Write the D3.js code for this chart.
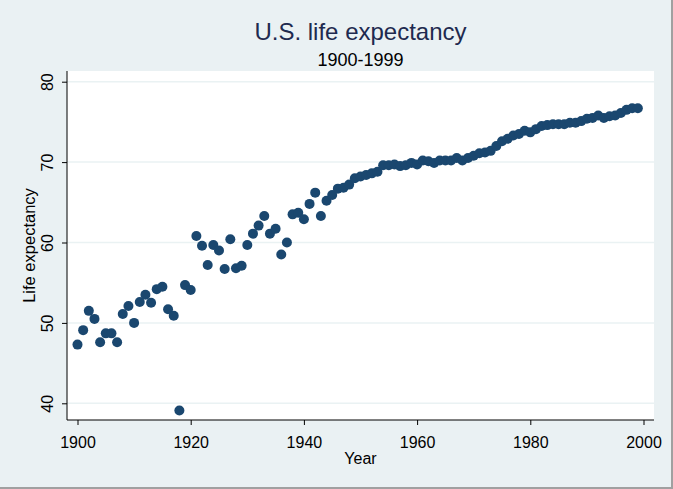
<!DOCTYPE html>
<html><head><meta charset="utf-8">
<script src="https://cdn.jsdelivr.net/npm/d3@7"></script>
<style>body{margin:0;background:#eaf1f3;} svg{display:block;}</style>
</head><body>
<svg id="c" width="673" height="489"></svg>
<script>
const years = d3.range(1900, 2000);
const lifeExp = [47.3,49.1,51.5,50.5,47.6,48.7,48.7,47.6,51.1,52.1,
50.0,52.6,53.5,52.5,54.2,54.5,51.7,50.9,39.1,54.7,
54.1,60.8,59.6,57.2,59.7,59.0,56.7,60.4,56.8,57.1,
59.7,61.1,62.1,63.3,61.1,61.7,58.5,60.0,63.5,63.7,
62.9,64.8,66.2,63.3,65.2,65.9,66.7,66.8,67.2,68.0,
68.2,68.4,68.6,68.8,69.6,69.6,69.7,69.5,69.6,69.9,
69.7,70.2,70.1,69.9,70.2,70.2,70.2,70.5,70.2,70.5,
70.8,71.1,71.2,71.4,72.0,72.6,72.9,73.3,73.5,73.9,
73.7,74.1,74.5,74.6,74.7,74.7,74.7,74.9,74.9,75.1,
75.4,75.5,75.8,75.5,75.7,75.8,76.1,76.5,76.7,76.7];
const xTicks = [1900,1920,1940,1960,1980,2000];
const yTicks = [40,50,60,70,80];

const svg = d3.select("#c");
const W = 673, H = 489;
const L = 67, R = 654, T = 71, B = 420;
const font = "Arial, 'Liberation Sans', sans-serif";

svg.append("rect").attr("width", W).attr("height", H).attr("fill", "#eaf1f3");
svg.append("line").attr("x1", W-1).attr("x2", W-1).attr("y1", 0).attr("y2", H).attr("stroke", "#a0a0a0").attr("stroke-width", 2);
svg.append("line").attr("x1", 0).attr("x2", W).attr("y1", H-1).attr("y2", H-1).attr("stroke", "#a0a0a0").attr("stroke-width", 2);

svg.append("rect").attr("x", L).attr("y", T).attr("width", R-L).attr("height", B-T).attr("fill", "#ffffff");

const x = d3.scaleLinear().domain([1900, 2000]).range([77.5, 643.5]);
const y = d3.scaleLinear().domain([40, 80]).range([403.3, 81.7]);

// gridlines
svg.append("g").selectAll("line").data(yTicks).join("line")
  .attr("x1", L).attr("x2", R).attr("y1", d => y(d)).attr("y2", d => y(d))
  .attr("stroke", "#eaf2f3").attr("stroke-width", 1.5);

// y axis
const yAxis = d3.axisLeft(y).tickValues(yTicks).tickSize(5);
const gy = svg.append("g").attr("transform", `translate(${L},0)`).call(yAxis);
gy.select(".domain").attr("d", `M0,${T}V${B}`).attr("stroke", "#000");
gy.selectAll(".tick line").attr("stroke", "#000");
gy.selectAll(".tick text").remove();
gy.selectAll(".tick").append("text")
  .attr("transform", "translate(-14,0) rotate(-90)")
  .attr("text-anchor", "middle")
  .attr("font-family", font).attr("font-size", 16).attr("fill", "#000")
  .text(d => d);

// x axis
const xAxis = d3.axisBottom(x).tickValues(xTicks).tickSize(5).tickFormat(d3.format("d"));
const gx = svg.append("g").attr("transform", `translate(0,${B})`).call(xAxis);
gx.select(".domain").attr("d", `M${L},0H${R}`).attr("stroke", "#000");
gx.selectAll(".tick line").attr("stroke", "#000");
gx.selectAll(".tick text").attr("font-family", font).attr("font-size", 16).attr("fill", "#000")
  .attr("y", 28).attr("dy", 0);

// points
svg.append("g").selectAll("circle").data(years).join("circle")
  .attr("cx", (d) => x(d)).attr("cy", (d, i) => y(lifeExp[i])).attr("r", 5)
  .attr("fill", "#1a476f");

// titles
svg.append("text").attr("x", (L+R)/2).attr("y", 40).attr("text-anchor", "middle")
  .attr("font-family", font).attr("font-size", 24).attr("fill", "#1e2a4f").text("U.S. life expectancy");
svg.append("text").attr("x", (L+R)/2).attr("y", 66).attr("text-anchor", "middle")
  .attr("font-family", font).attr("font-size", 18).attr("fill", "#000").text("1900-1999");
svg.append("text").attr("x", (L+R)/2).attr("y", 464).attr("text-anchor", "middle")
  .attr("font-family", font).attr("font-size", 16).attr("fill", "#000").text("Year");
svg.append("text").attr("transform", `translate(35,${(T+B)/2}) rotate(-90)`).attr("text-anchor", "middle")
  .attr("font-family", font).attr("font-size", 16.5).attr("fill", "#000").text("Life expectancy");
</script>
</body></html>
